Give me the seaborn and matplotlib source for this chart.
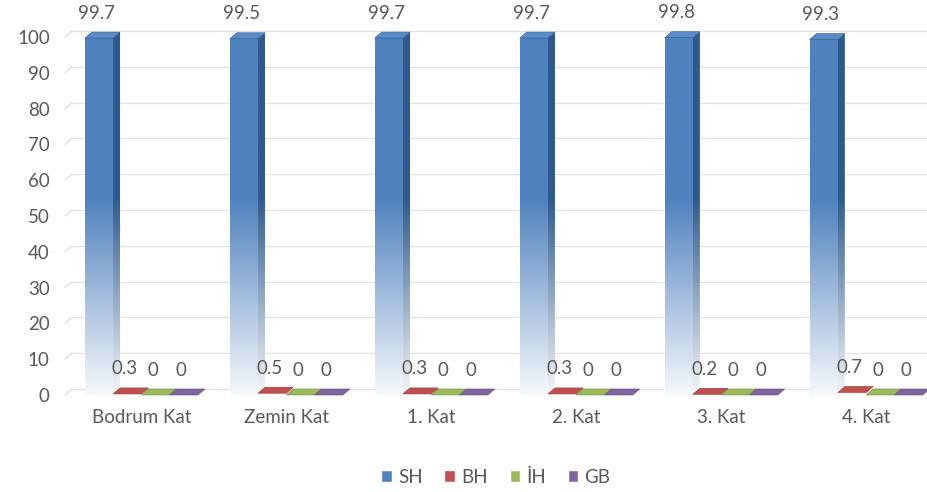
import numpy as np
import pandas as pd
import matplotlib
matplotlib.use("Agg")
import matplotlib.pyplot as plt
import seaborn as sns
from matplotlib.patches import Polygon, Patch
from matplotlib.colors import to_rgb

# --- data -------------------------------------------------------------
floors = ["Bodrum Kat", "Zemin Kat", "1. Kat", "2. Kat", "3. Kat", "4. Kat"]
series = ["SH", "BH", "İH", "GB"]
sh = [99.7, 99.5, 99.7, 99.7, 99.8, 99.3]
bh = [0.3, 0.5, 0.3, 0.3, 0.2, 0.7]
ih = [0, 0, 0, 0, 0, 0]
gb = [0, 0, 0, 0, 0, 0]
yticks = list(range(0, 101, 10))

front_colors = ["#4f81bd", "#c0504d", "#9bbb59", "#8064a2"]
side_colors = ["#2d5a8e", "#8e3a38", "#728a40", "#5d4a78"]
top_colors = ["#5b8bc7", "#c0504d", "#9bbb59", "#8064a2"]
text_color = "#595959"

rows = []
for name, vals in zip(series, [sh, bh, ih, gb]):
    for floor, v in zip(floors, vals):
        rows.append({"Kat": floor, "Seri": name, "Değer": v})
df = pd.DataFrame(rows)

# --- figure -----------------------------------------------------------
sns.set_theme(style="white")
plt.rcParams["font.family"] = ["Lato", "DejaVu Sans"]
FS = 13.5

W, H = 927, 492
fig = plt.figure(figsize=(W / 100, H / 100), dpi=100)
px_y = 3.58                      # pixels per unit on the value axis
y_top = 102
ax = fig.add_axes([65 / W, 1 - 395 / H, (W - 65) / W, y_top * px_y / H])

sns.barplot(data=df, x="Kat", y="Değer", hue="Seri", order=floors,
            hue_order=series, palette=front_colors, width=0.78,
            saturation=1, legend=False, ax=ax)

x_lo, x_hi = -0.527, 5.42
ax.set_xlim(x_lo, x_hi)
ax.set_ylim(0, y_top)
px_x = (W - 65) / (x_hi - x_lo)
dx = 7 / px_x                    # depth offset of the 3D faces
dy = 6 / px_y

for s in ax.spines.values():
    s.set_visible(False)
ax.grid(False)

# back-wall gridlines with the short floor diagonal on the left
for v in yticks:
    ax.plot([x_lo, x_lo + dx], [v, v + dy], color="#d9d9d9", lw=0.8,
            zorder=0.5, clip_on=False)
    ax.plot([x_lo + dx, x_hi], [v + dy, v + dy], color="#e3e3e3", lw=0.9,
            zorder=0.5, clip_on=False)


def fade_image(color, h, n=256):
    """Vertical ramp: solid above ~55, fading toward white near the floor."""
    base = np.array(to_rgb(color))
    ys = np.linspace(0, h, n)
    t = np.clip(0.05 + 0.95 * ys / 55.0, 0, 1)
    img = (1 - t)[:, None] * np.ones(3) + t[:, None] * base
    return img[:, None, :]


for k, cont in enumerate(ax.containers):
    for bar in cont:
        x0 = bar.get_x()
        w = bar.get_width()
        h = bar.get_height()
        x1 = x0 + w
        bar.set_visible(False)
        if h > 0.05:
            ax.imshow(fade_image(front_colors[k], h), extent=(x0, x1, 0, h),
                      origin="lower", aspect="auto", interpolation="bilinear",
                      zorder=3, clip_on=False)
            side = Polygon([(x1, 0), (x1 + dx, dy), (x1 + dx, h + dy), (x1, h)],
                           closed=True, facecolor="none", edgecolor="none")
            ax.add_patch(side)
            ims = ax.imshow(fade_image(side_colors[k], h + dy),
                            extent=(x1, x1 + dx, 0, h + dy), origin="lower",
                            aspect="auto", interpolation="bilinear", zorder=3,
                            clip_on=True)
            ims.set_clip_path(side)
        top = Polygon([(x0, h), (x0 + dx, h + dy), (x1 + dx, h + dy), (x1, h)],
                      closed=True, facecolor=top_colors[k],
                      edgecolor=side_colors[k], lw=0.4, zorder=4, clip_on=False)
        ax.add_patch(top)
        ax.annotate(f"{h:g}", (x0 + w / 2, h), xytext=(-2, 18),
                    textcoords="offset points", ha="center", va="center",
                    fontsize=FS, color=text_color, annotation_clip=False)

ax.set_xlim(x_lo, x_hi)
ax.set_ylim(0, y_top)
ax.set_yticks(yticks)
ax.set_yticklabels([str(v) for v in yticks])
ax.set_xlabel("")
ax.set_ylabel("")
ax.tick_params(axis="both", length=0, colors=text_color, labelsize=FS)
ax.tick_params(axis="y", pad=11)
ax.tick_params(axis="x", pad=10)

handles = [Patch(facecolor=c, label=s) for c, s in zip(front_colors, series)]
leg = fig.legend(handles=handles, loc="center", bbox_to_anchor=(496 / W, 1 - 477 / H),
                 ncol=4, frameon=False, handlelength=0.55, handleheight=0.55,
                 handletextpad=0.35, columnspacing=1.15, fontsize=FS)
for t in leg.get_texts():
    t.set_color(text_color)

fig.savefig("out.png", dpi=100)
